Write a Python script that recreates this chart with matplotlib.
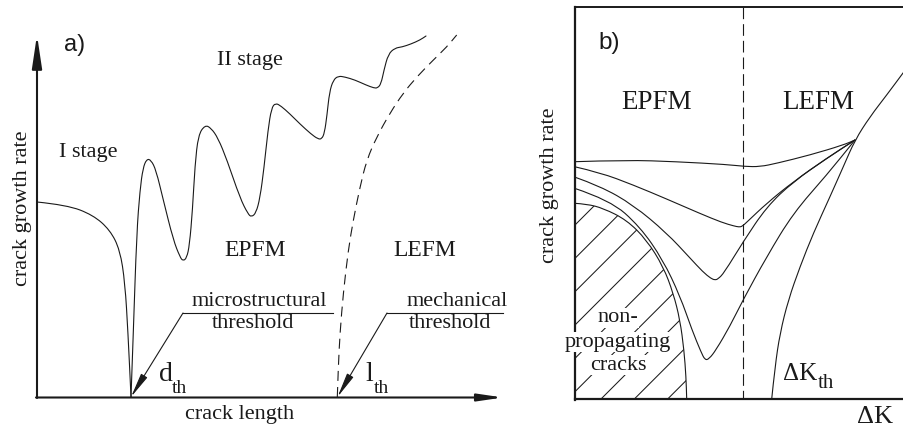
import matplotlib
matplotlib.use("Agg")
import matplotlib.pyplot as plt
from matplotlib.path import Path
from matplotlib.patches import PathPatch

plt.rcParams['hatch.linewidth'] = 0.75

INK = '#1a1a1a'
SERIF = 'Liberation Serif'
SANS = 'Liberation Sans'

# ---------------- panel a: crack growth rate vs crack length ----------------
stage1_x = [37, 67, 93, 110, 120, 125, 128, 131]
stage1_y = [202, 205, 215, 230, 250, 283, 333, 397]

stage2_x = [131, 133.3, 136.7, 140, 143, 146.7, 151, 156, 163.3, 173.3, 180, 183, 186.7, 189.5,
            192.5, 195, 198.3, 205, 211, 218, 227, 240, 248, 251.5, 256, 260, 264, 268, 271.5,
            275.5, 281, 290, 300, 311, 318, 321.7, 324.5, 327, 329.5, 333.3, 338.3, 345, 355,
            366, 374, 377.5, 381, 384, 388.3, 395, 402, 411, 420, 426]
stage2_y = [397, 333, 233, 190, 168, 159, 160, 170, 200, 240, 257, 261, 258, 245,
            210, 165, 135, 125, 128, 138, 160, 198, 214, 217, 213, 198, 168, 130, 108,
            103, 106, 114, 124, 134, 139, 139, 133, 115, 92, 80, 76, 77, 80,
            85, 88, 88, 84, 70, 54, 48, 47, 44, 40, 36]

lefm_x = [337.3, 338.3, 340, 343.3, 348.3, 353.3, 360, 366.7, 376.7, 390, 403.3, 416.7, 433.3, 446.7, 456.7]
lefm_y = [397, 367, 333, 293, 250, 220, 187, 160, 137, 113, 93, 77, 60, 47, 35]

# ---------------- panel b: crack growth rate vs delta K ----------------
kth_x = [771.7, 775, 780, 788.3, 800, 813.3, 830, 843.3, 855, 870, 886.7, 904]
kth_y = [399, 366.7, 333.3, 300, 266.7, 233.3, 196.7, 166.7, 140, 116.7, 95, 71.7]

c1_x = [574.5, 626.7, 676.7, 726.7, 745, 760, 776.7, 810, 843.3, 855]
c1_y = [161.7, 160, 161.7, 164.5, 166.5, 166.7, 163.3, 155, 145, 140]

c2_x = [574.5, 600, 633.3, 666.7, 700, 722, 734, 739, 742, 747, 766.7, 793.3, 826.7, 855]
c2_y = [166.7, 172.5, 185, 199, 213.5, 222.5, 226, 227, 226.5, 222, 203.3, 181.7, 158.3, 140]

c3_x = [574.5, 600, 633.3, 666.7, 690, 703, 711, 715, 718, 724, 743, 766.7, 793.3, 826.7, 855]
c3_y = [177, 186, 205, 233, 258, 272, 278.5, 280, 279, 273, 242, 206.7, 181.7, 158.3, 140]

c4_x = [574.5, 610, 640, 663, 680, 692, 701, 705, 709, 716, 730, 743, 766.7, 793.3, 826.7, 855]
c4_y = [188.3, 200, 226.7, 260, 296, 330, 352, 360, 359, 350, 326, 300, 256.7, 213, 175, 140]

np_x = [574.5, 586.7, 603.3, 626.7, 646.7, 663.3, 673.3, 680, 684, 686, 686.7]
np_y = [203.3, 204, 208.3, 220, 240, 266.7, 293.3, 320, 350, 376.7, 399]


def smooth_path(xs, ys):
    """Quadratic Bezier path through the listed stroke points."""
    verts = [(xs[0], ys[0])]
    codes = [Path.MOVETO]
    for i in range(1, len(xs) - 1):
        mx = (xs[i] + xs[i + 1]) / 2.0
        my = (ys[i] + ys[i + 1]) / 2.0
        verts += [(xs[i], ys[i]), (mx, my)]
        codes += [Path.CURVE3, Path.CURVE3]
    verts.append((xs[-1], ys[-1]))
    codes.append(Path.LINETO)
    return Path(verts, codes)


def stroke(ax, xs, ys, **kw):
    style = dict(facecolor='none', edgecolor=INK, linewidth=0.8, capstyle='round')
    style.update(kw)
    ax.add_patch(PathPatch(smooth_path(xs, ys), **style))


def arrow(ax, tip, base, lw, hl, hw):
    ax.annotate('', xy=tip, xytext=base,
                arrowprops=dict(arrowstyle='-|>,head_length=%g,head_width=%g' % (hl, hw),
                                mutation_scale=10, lw=lw, color=INK,
                                shrinkA=0, shrinkB=0))


def subscripted(ax, x, y, main, size, sub_x, sub_y, sub_size):
    ax.text(x, y, main, family=SERIF, fontsize=size, color=INK, ha='left', va='baseline')
    ax.text(sub_x, sub_y, 'th', family=SERIF, fontsize=sub_size, color=INK, ha='left', va='baseline')


fig = plt.figure(figsize=(9.04, 4.28), dpi=100)
ax = fig.add_axes([0, 0, 1, 1])
ax.set_xlim(0, 904)
ax.set_ylim(428, 0)
ax.axis('off')

# ---- panel a ----
arrow(ax, (37, 35), (37, 398), 1.5, 2.0, 0.3)
arrow(ax, (503, 397.5), (36, 397.5), 1.5, 1.5, 0.22)

stroke(ax, stage1_x, stage1_y)
stroke(ax, stage2_x, stage2_y)
stroke(ax, lefm_x, lefm_y, linestyle=(0, (9, 5.5)), capstyle='butt')

# threshold leaders
ax.plot([183, 333], [313, 313], color=INK, lw=0.8)
arrow(ax, (131, 397), (183, 313), 0.8, 1.5, 0.22)
ax.plot([387, 503], [313, 313], color=INK, lw=0.8)
arrow(ax, (337.5, 397), (387, 313), 0.8, 1.5, 0.22)

txt = dict(family=SERIF, fontsize=16, color=INK, ha='center', va='center')
big = dict(txt, fontsize=19.5)
ax.text(75, 45, 'a)', family=SANS, fontsize=17, color=INK, ha='center', va='center')
ax.text(250, 60, 'II stage', **txt)
ax.text(88, 153, 'I stage', **txt)
ax.text(255, 250, 'EPFM', **dict(txt, fontsize=17))
ax.text(425, 250, 'LEFM', **dict(txt, fontsize=17))
ax.text(259, 302, 'microstructural', **txt)
ax.text(253, 323, 'threshold', **txt)
ax.text(457, 302, 'mechanical', **txt)
ax.text(450, 323, 'threshold', **txt)
subscripted(ax, 159, 381, 'd', 20, 172, 393, 14)
subscripted(ax, 365.5, 381, 'l', 20, 373.5, 393, 14)
ax.text(240, 415, 'crack length', **txt)
ax.text(23, 208, 'crack growth rate', rotation=90, **txt)

# ---- panel b ----
ax.plot([575, 575], [6.5, 399.5], color=INK, lw=1.6, solid_capstyle='projecting')
ax.plot([575, 904], [7, 7], color=INK, lw=1.4)
ax.plot([575, 904], [399, 399], color=INK, lw=1.6)
ax.plot([743.5, 743.5], [7, 399], color=INK, lw=0.8, linestyle=(0, (10.5, 4.5)))

# hatched non-propagating region
region = smooth_path(np_x, np_y)
hv = [(574.5, 399)] + list(region.vertices) + [(574.5, 399)]
hc = [Path.MOVETO, Path.LINETO] + list(region.codes[1:]) + [Path.CLOSEPOLY]
ax.add_patch(PathPatch(Path(hv, hc), facecolor='none', edgecolor=INK, linewidth=0, hatch='/'))
stroke(ax, np_x, np_y)

for xs, ys in [(c1_x, c1_y), (c2_x, c2_y), (c3_x, c3_y), (c4_x, c4_y), (kth_x, kth_y)]:
    stroke(ax, xs, ys)

ax.text(609, 43, 'b)', family=SANS, fontsize=17.5, color=INK, ha='center', va='center')
ax.text(657, 102, 'EPFM', **big)
ax.text(818, 102, 'LEFM', **big)
ax.text(550, 185, 'crack growth rate', rotation=90, **txt)
white = dict(facecolor='white', edgecolor='none', pad=0.3)
ax.text(618, 318, 'non-', bbox=white, **txt)
ax.text(618, 342, 'propagating', bbox=white, **txt)
ax.text(618, 365, 'cracks', bbox=white, **txt)
subscripted(ax, 783, 380, 'ΔK', 18, 818, 388.5, 15)
ax.text(857, 423, 'ΔK', family=SERIF, fontsize=19, color=INK, ha='left', va='baseline')

fig.savefig('out.png', dpi=100)
